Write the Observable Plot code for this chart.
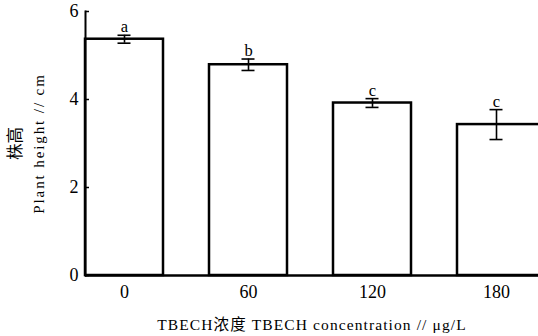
<!DOCTYPE html>
<html><head><meta charset="utf-8">
<script src="https://cdn.jsdelivr.net/npm/d3@7"></script>
<script src="https://cdn.jsdelivr.net/npm/@observablehq/plot@0.6"></script>
<style>
body{margin:0;background:#fff;}
</style>
</head><body><div id="chart"></div>
<script>
const concentrations = ["0", "60", "120", "180"];
const heights = [5.37, 4.79, 3.92, 3.43];
const errors = [0.09, 0.13, 0.10, 0.34];
const letters = ["a", "b", "c", "c"];
const yTicks = [0, 2, 4, 6];
const xTitle = "TBECH浓度 TBECH concentration // μg/L";
const yTitleCn = "株高";
const yTitleEn = "Plant height // cm";

const data = concentrations.map((c, i) => ({c, h: heights[i], e: errors[i], l: letters[i]}));
const serif = "'Liberation Serif', 'Noto Sans CJK SC', serif";

const chart = Plot.plot({
  width: 538,
  height: 336,
  marginLeft: 85,
  marginRight: 0,
  marginTop: 11,
  marginBottom: 61,
  style: {background: "white", color: "black", fontFamily: serif},
  x: {domain: concentrations, range: [85, 536.5], paddingInner: 0.373, paddingOuter: 0, align: 0},
  y: {domain: [0, 6]},
  marks: [
    Plot.barY(data.slice(0, 3), {x: "c", y: "h", fill: "white", stroke: "black", strokeWidth: 2.5}),
    Plot.barY(data.slice(3), {x: "c", y: "h", fill: "white", stroke: "black", strokeWidth: 2.5, insetRight: -12}),
    Plot.ruleX(data, {x: "c", y1: d => d.h - d.e, y2: d => d.h + d.e, stroke: "black", strokeWidth: 1.6}),
    Plot.tickY(data, {x: "c", y: d => d.h + d.e, stroke: "black", strokeWidth: 1.6, inset: 32.5}),
    Plot.tickY(data, {x: "c", y: d => d.h - d.e, stroke: "black", strokeWidth: 1.6, inset: 32.5}),
    Plot.text(data, {x: "c", y: d => d.h + d.e, text: "l", lineAnchor: "bottom", dy: -3, fontSize: 16.5, fontFamily: serif, fill: "black"}),
    Plot.frame({anchor: "left", stroke: "black", strokeWidth: 2}),
    Plot.ruleY([0], {stroke: "black", strokeWidth: 2.5}),
    Plot.axisY({ticks: yTicks, tickFormat: d => String(d), tickSize: 0, tickPadding: 7, fontSize: 18, fontFamily: serif, label: null}),
    Plot.axisY({ticks: yTicks, tickSize: 4, dx: 4, text: null, strokeWidth: 1.5, label: null}),
    Plot.axisX({tickSize: 0, tickPadding: 10, fontSize: 18, fontFamily: serif, label: null}),
    Plot.text([xTitle], {frameAnchor: "bottom", textAnchor: "middle", lineAnchor: "middle", dy: 50, fontSize: 15.5, fontFamily: serif, fill: "black"}),
    Plot.text([yTitleCn], {frameAnchor: "left", textAnchor: "middle", lineAnchor: "middle", dx: -70, rotate: -90, fontSize: 16.5, fontFamily: serif, fill: "black"}),
    Plot.text([yTitleEn], {frameAnchor: "left", textAnchor: "middle", lineAnchor: "middle", dx: -46, rotate: -90, fontSize: 15, fontFamily: serif, fill: "black"})
  ]
});
d3.select(chart).selectAll("text").each(function() {
  const t = this.textContent;
  if (t === xTitle) d3.select(this).attr("letter-spacing", "1.1px");
  if (t === yTitleEn) d3.select(this).attr("letter-spacing", "1.9px");
});
document.getElementById("chart").appendChild(chart);
</script>
</body></html>
